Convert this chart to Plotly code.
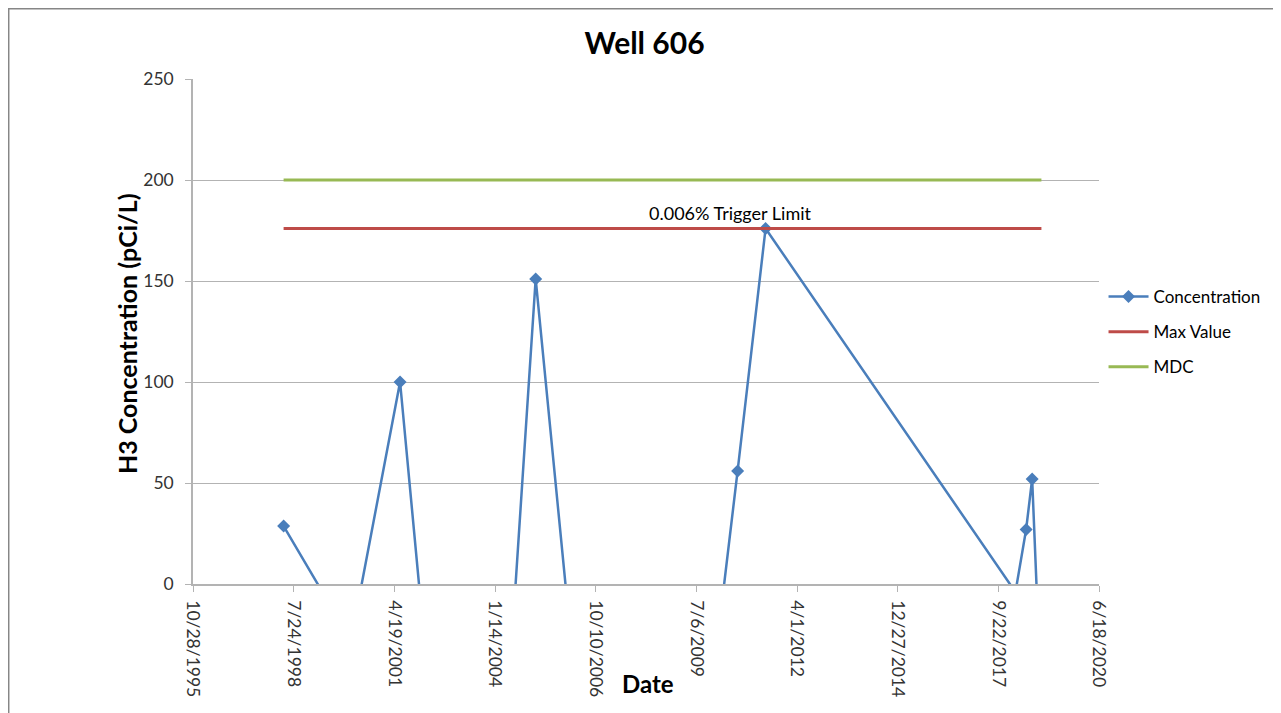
import plotly.graph_objects as go

# sample dates and H3 results (negative results fall below the visible axis)
sample_dates = [
    "1998-04-15", "2000-02-13", "2001-06-15", "2002-04-08", "2003-05-10",
    "2004-05-21", "2005-02-21", "2006-05-04", "2008-01-15", "2009-12-10",
    "2010-08-20", "2011-05-25", "2018-03-11", "2018-06-25", "2018-08-24",
    "2018-11-24",
]
concentration = [
    28.7, -28, 100, -58, -40,
    -58, 151, -72, -45, -50,
    56, 176, -4, 27, 52,
    -60,
]

limit_dates = ["1998-04-15", "2018-11-24"]
max_value = [176, 176]
mdc = [200, 200]

tick_dates = [
    "1995-10-28", "1998-07-24", "2001-04-19", "2004-01-14", "2006-10-10",
    "2009-07-06", "2012-04-01", "2014-12-27", "2017-09-22", "2020-06-18",
]
tick_labels = [
    "10/28/1995", "7/24/1998", "4/19/2001", "1/14/2004", "10/10/2006",
    "7/6/2009", "4/1/2012", "12/27/2014", "9/22/2017", "6/18/2020",
]

FONT = "Lato, 'Open Sans', sans-serif"
GRID = "#b3b3b3"
TXT = "#333333"

fig = go.Figure()
fig.add_trace(go.Scatter(
    x=sample_dates, y=concentration, name="Concentration",
    mode="lines+markers", legendgroup="c",
    line=dict(color="#4a7ebb", width=2.5),
    marker=dict(symbol="diamond", size=10, color="#4a7ebb"),
    cliponaxis=True,
))
fig.add_trace(go.Scatter(
    x=limit_dates, y=max_value, name="Max Value", mode="lines",
    legendgroup="m",
    line=dict(color="#be4b48", width=3),
))
fig.add_trace(go.Scatter(
    x=limit_dates, y=mdc, name="MDC", mode="lines",
    legendgroup="d",
    line=dict(color="#98b954", width=3),
))

fig.add_annotation(
    x="2010-06-11", y=max_value[0], text="0.006% Trigger Limit",
    showarrow=False, yanchor="bottom", yshift=2,
    font=dict(size=18, color="#000000", family=FONT),
)

# axis titles placed like the Excel chart
fig.add_annotation(
    xref="paper", yref="paper", x=0.502, y=-0.198,
    text="<b>Date</b>", showarrow=False,
    xanchor="center", yanchor="middle",
    font=dict(size=24, family=FONT, color="#000000"),
)
fig.add_annotation(
    xref="paper", yref="paper", x=-0.0728, y=0.495,
    text="<b>H3 Concentration (pCi/L)</b>", showarrow=False, textangle=-90,
    xanchor="center", yanchor="middle",
    font=dict(size=25, family=FONT, color="#000000"),
)

# outer chart frame
fig.add_shape(
    type="rect", xref="paper", yref="paper",
    x0=-0.2034, x1=1.1998, y0=-0.27, y1=1.1391,
    line=dict(color="#868686", width=1.5), fillcolor="rgba(0,0,0,0)",
    layer="below",
)

fig.update_layout(
    width=1273, height=705,
    margin=dict(l=185, r=182, t=71, b=129, autoexpand=False),
    paper_bgcolor="white", plot_bgcolor="white",
    font=dict(family=FONT, size=17, color=TXT),
    title=dict(
        text="<b>Well 606</b>", x=0.5, xanchor="center",
        y=0.949, yanchor="middle",
        font=dict(size=30, family=FONT, color="#000000"),
    ),
    showlegend=True,
    legend=dict(
        x=1.005, y=0.499, xanchor="left", yanchor="middle",
        font=dict(size=17, family=FONT, color="#000000"),
        tracegroupgap=10, itemwidth=40,
        bgcolor="rgba(0,0,0,0)",
    ),
)

fig.update_xaxes(
    type="date", automargin=False,
    range=["1995-10-28", "2020-06-18"],
    tickvals=tick_dates, ticktext=tick_labels,
    tickangle=90,
    ticks="outside", ticklen=6, tickcolor=GRID,
    ticklabelstandoff=5,
    showline=True, linecolor=GRID, linewidth=1.5,
    showgrid=False, zeroline=False,
    tickfont=dict(size=17.5, color=TXT, family=FONT),
)
fig.update_yaxes(
    automargin=False,
    range=[0, 250], dtick=50,
    ticks="outside", ticklen=6, tickcolor=GRID,
    ticklabelstandoff=8,
    showline=True, linecolor=GRID, linewidth=1.5,
    showgrid=True, gridcolor=GRID, gridwidth=1,
    zeroline=False,
    tickfont=dict(size=17.5, color=TXT, family=FONT),
)

fig.write_html("out.html")
